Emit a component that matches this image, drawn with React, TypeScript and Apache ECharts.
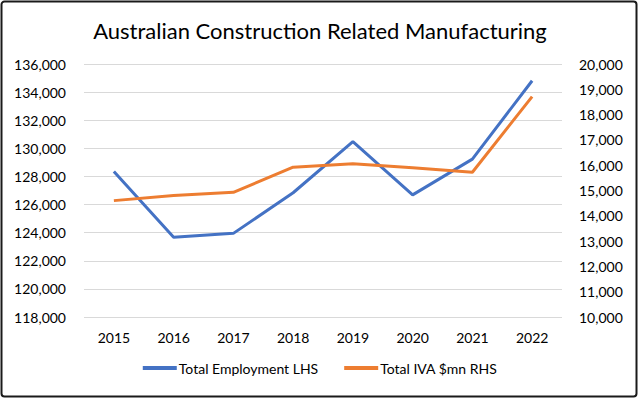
import React, { useEffect, useRef } from "react";
import * as echarts from "echarts";

const years = ["2015", "2016", "2017", "2018", "2019", "2020", "2021", "2022"];
const employment = [128350, 123670, 123950, 126840, 130470, 126690, 129230, 134810];
const iva = [14600, 14800, 14930, 15920, 16060, 15900, 15720, 18710];
const title = "Australian Construction Related Manufacturing";

const FONT = "Lato";

export default function App() {
  const ref = useRef<HTMLDivElement>(null);
  useEffect(() => {
    document.body.style.margin = "0";
    const chart = echarts.init(ref.current!, null, { renderer: "svg" });
    chart.setOption({
      animation: false,
      backgroundColor: "#fff",
      title: {
        text: title,
        left: "center",
        top: 14,
        textStyle: { fontFamily: FONT, fontSize: 22, fontWeight: "normal", color: "#000" },
      },
      graphic: [
        {
          type: "rect",
          shape: { x: 1.5, y: 1.5, width: 635, height: 395, r: 3 },
          style: { fill: "none", stroke: "#1a1a1a", lineWidth: 2 },
          silent: true,
        },
      ],
      grid: { left: 84, right: 78, top: 64, bottom: 82 },
      legend: {
        bottom: 19,
        left: "center",
        itemGap: 26,
        itemWidth: 34,
        itemHeight: 4,
        icon: "rect",
        textStyle: { fontFamily: FONT, fontSize: 14, color: "#000", padding: [0, 0, 0, -3] },
        data: ["Total Employment LHS", "Total IVA $mn RHS"],
      },
      xAxis: {
        type: "category",
        data: years,
        boundaryGap: true,
        axisLine: { show: false },
        axisTick: { show: false },
        axisLabel: { fontFamily: FONT, fontSize: 14, color: "#000", margin: 13 },
      },
      yAxis: [
        {
          type: "value",
          min: 118000,
          max: 136000,
          interval: 2000,
          axisLine: { show: false },
          axisTick: { show: false },
          splitLine: { lineStyle: { color: "#d9d9d9", width: 1 } },
          axisLabel: {
            fontFamily: FONT,
            fontSize: 14,
            color: "#000",
            margin: 18,
            formatter: (v: number) => v.toLocaleString("en-US"),
          },
        },
        {
          type: "value",
          min: 10000,
          max: 20000,
          interval: 1000,
          position: "right",
          axisLine: { show: false },
          axisTick: { show: false },
          splitLine: { show: false },
          axisLabel: {
            fontFamily: FONT,
            fontSize: 14,
            color: "#000",
            margin: 17,
            formatter: (v: number) => v.toLocaleString("en-US"),
          },
        },
      ],
      series: [
        {
          name: "Total Employment LHS",
          type: "line",
          yAxisIndex: 0,
          data: employment,
          showSymbol: false,
          symbol: "none",
          lineStyle: { color: "#4472C4", width: 3 },
          itemStyle: { color: "#4472C4" },
        },
        {
          name: "Total IVA $mn RHS",
          type: "line",
          yAxisIndex: 1,
          data: iva,
          showSymbol: false,
          symbol: "none",
          lineStyle: { color: "#ED7D31", width: 3 },
          itemStyle: { color: "#ED7D31" },
        },
      ],
    });
    return () => chart.dispose();
  }, []);
  return <div ref={ref} style={{ width: 640, height: 399 }} />;
}
